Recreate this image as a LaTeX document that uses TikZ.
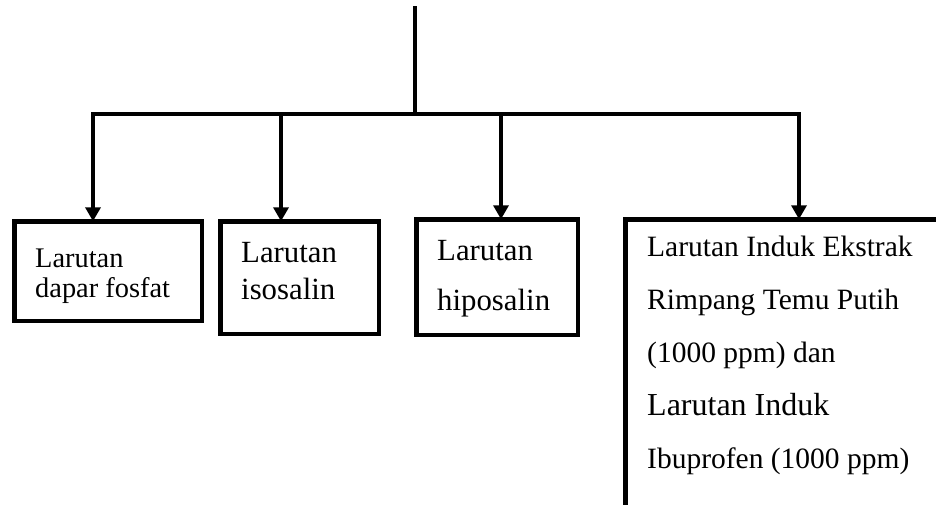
\documentclass[tikz,border=0pt]{standalone}
\usepackage{fontspec}
\setmainfont{Liberation Serif}
\usetikzlibrary{arrows.meta}

\tikzset{
    box/.style={draw, line width=4.5pt, inner sep=0pt, outer sep=0pt, anchor=north west},
    txt/.style={anchor=base west, inner sep=0pt, align=left, text width=#1,
        execute at begin node={\spaceskip=0pt\relax}},
    bus/.style={line width=3.5pt, line cap=rect},
    arr/.style={line width=3.5pt, -{Triangle[width=15pt,length=14pt]}},
}

\begin{document}
\begin{tikzpicture}[x=1pt,y=-1pt]
    \clip (0,0) rectangle (936,504);
    % Draw boxes
    \node[box, minimum width=187.5pt, minimum height=99.5pt] (b1) at (14.25,221.25) {};
    \node[box, minimum width=158.5pt, minimum height=112.5pt] (b2) at (220.25,221.25) {};
    \node[box, minimum width=161.5pt, minimum height=115.5pt] (b3) at (416.25,219.25) {};
    \node[box, minimum width=400pt, minimum height=400pt] (b4) at (625.25,219.25) {};
    % Texts in the boxes
    \node[txt=165pt, font=\fontsize{28.4}{30}\selectfont] (t1) at (35,267) {Larutan\\dapar fosfat};
    \node[txt=135pt, font=\fontsize{30.8}{37}\selectfont] (t2) at (241,262) {Larutan\\isosalin};
    \node[txt=135pt, font=\fontsize{30.8}{50}\selectfont] (t3) at (437,260) {Larutan\\hiposalin};
    \node[txt=300pt, font=\fontsize{29.5}{53}\selectfont] (t4) at (647,256)
        {Larutan Induk Ekstrak\\Rimpang Temu Putih\\(1000 ppm) dan\\{\fontsize{32}{53}\selectfont Larutan Induk}\\Ibuprofen (1000 ppm)};
    % Define points
    \coordinate (top) at (415,8);
    \coordinate (mid) at (415,114);
    \foreach \x [count=\xi] in {93,281,501,799} {
        \coordinate (j\xi) at (\x,114);
    }
    % Draw connectors
    \draw[bus] (top) -- (mid);
    \draw[bus] (j1) -- (j4);
    \foreach \xi in {1,...,4} {
        \draw[arr] (j\xi) -- (j\xi |- b\xi.north);
    }
\end{tikzpicture}
\end{document}
